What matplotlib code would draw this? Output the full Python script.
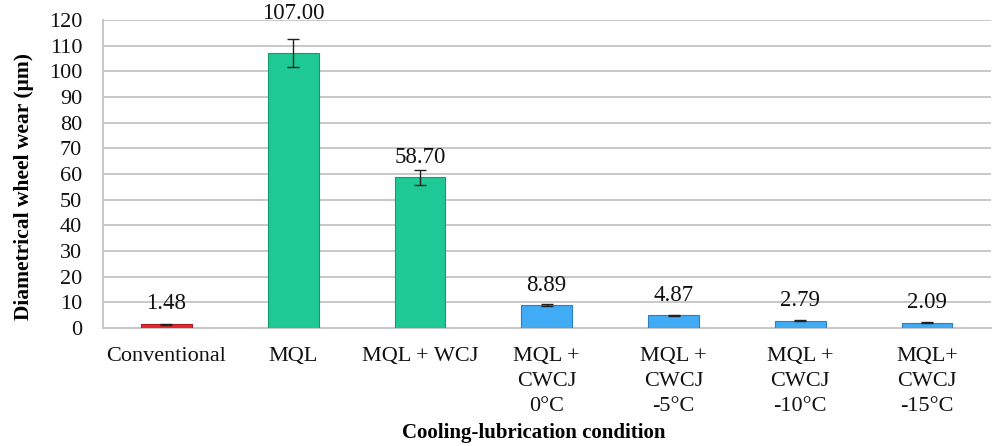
import matplotlib
matplotlib.use("Agg")
import matplotlib.pyplot as plt
import numpy as np

# Diametrical wheel wear for each cooling-lubrication condition
conditions = ["Conventional", "MQL", "MQL + WCJ", "MQL +\nCWCJ\n0°C",
              "MQL +\nCWCJ\n-5°C", "MQL +\nCWCJ\n-10°C", "MQL+\nCWCJ\n-15°C"]
wear = [1.48, 107.00, 58.70, 8.89, 4.87, 2.79, 2.09]
wear_err = [0.2, 5.5, 3.0, 0.5, 0.3, 0.2, 0.2]
bar_colors = ["#e8262b", "#1ec995", "#1ec995", "#42abf5", "#42abf5", "#42abf5", "#42abf5"]
edge_colors = ["#b01a1e", "#159a70", "#159a70", "#2c7fc0", "#2c7fc0", "#2c7fc0", "#2c7fc0"]
label_offsets = [15, 29, 14.5, 14.5, 14.5, 14.5, 14.5]  # points above the bar top
yticks = list(range(0, 121, 10))

plt.rcParams["font.family"] = ["Liberation Serif", "DejaVu Serif"]

fig = plt.figure(figsize=(9.92, 4.46), dpi=100)
ax = fig.add_axes([0.1038, 0.2646, 0.8947, 0.6906])

x = np.arange(len(conditions))
ax.bar(x, wear, width=0.4, color=bar_colors, edgecolor=edge_colors,
       linewidth=0.8, zorder=3)
ax.errorbar(x, wear, yerr=wear_err, fmt="none", ecolor="#222222",
            elinewidth=1.0, capsize=4, capthick=1.0, zorder=4)

for xi, v, off in zip(x, wear, label_offsets):
    ax.annotate(f"{v:.2f}", xy=(xi, v), xytext=(0, off),
                textcoords="offset points", ha="center", va="center",
                fontsize=16.5, color="#111111", zorder=5)

ax.set_xlim(-0.5, len(conditions) - 0.5)
ax.set_ylim(0, 120)
ax.set_yticks(yticks)
ax.set_xticks(x)
ax.set_xticklabels(conditions, linespacing=1.42)
ax.tick_params(axis="y", length=0, pad=15, labelsize=16, colors="#111111")
ax.tick_params(axis="x", length=0, pad=14, labelsize=16, colors="#111111")

ax.grid(axis="y", color="#c8c8c8", linewidth=1.4, zorder=0)
ax.set_axisbelow(True)
for side in ["top", "right"]:
    ax.spines[side].set_visible(False)
for side in ["left", "bottom"]:
    ax.spines[side].set_color("#c8c8c8")
    ax.spines[side].set_linewidth(1.4)

ax.set_ylabel("Diametrical wheel wear (μm)", fontsize=15.5, fontweight="bold",
              va="center")
ax.set_xlabel("Cooling-lubrication condition", fontsize=15, fontweight="bold",
              va="center")
ax.yaxis.set_label_coords(-0.089, 0.46)
ax.xaxis.set_label_coords(0.485, -0.341)

fig.savefig("out.png", dpi=100, facecolor="white")
